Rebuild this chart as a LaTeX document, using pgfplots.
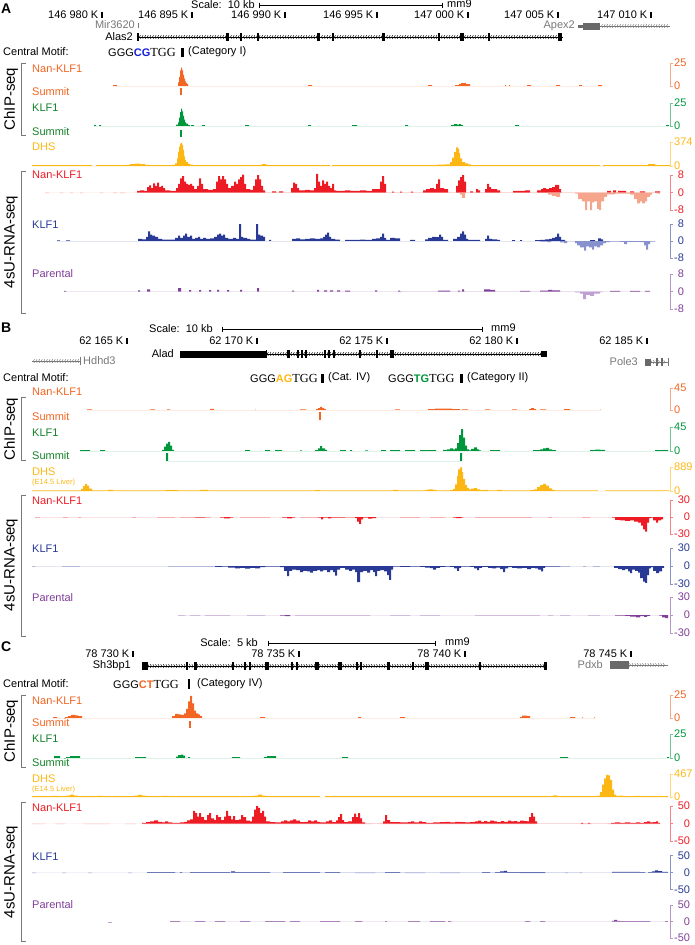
\documentclass[border=0pt]{standalone}
\usepackage{pgfplots}
\pgfplotsset{compat=1.18}
\usepackage{fontspec}
\setmainfont{Liberation Sans}
\newfontfamily\serifm[Scale=1.12]{Liberation Serif}
\usetikzlibrary{decorations.markings}
\definecolor{cor}{RGB}{242,101,34}
\definecolor{cgr}{RGB}{0,150,60}
\definecolor{cgl}{RGB}{20,130,40}
\definecolor{cgo}{RGB}{253,183,20}
\definecolor{cre}{RGB}{237,28,36}
\definecolor{csa}{RGB}{244,165,140}
\definecolor{cbl}{RGB}{40,58,150}
\definecolor{cbll}{RGB}{135,145,205}
\definecolor{cpu}{RGB}{128,63,152}
\definecolor{cpul}{RGB}{190,160,210}
\definecolor{cgy}{RGB}{120,120,120}
\definecolor{cgene}{RGB}{105,105,105}
\definecolor{mblue}{RGB}{20,30,220}
\newcommand\fsz{\fontsize{11}{13}\selectfont}
\pgfplotsset{
  trk/.style={scale only axis, width=695pt, xmin=0, xmax=695, hide axis, clip=false, anchor=origin},
  hb/.style={ybar interval, fill=#1, draw=none},
}
\newcommand\ctick[3]{\fill (#1-0.9,#2-3) rectangle (#1+0.9,#2+3); \node[anchor=east,inner sep=0pt,font=\fsz] at (#1-3.5,#2) {#3};}
\newcommand\ex[4]{\fill[#4] (#1-#2/2,#3-4) rectangle (#1+#2/2,#3+4);}
\newcommand\gline[5]{\draw[#4,line width=0.6pt,postaction={decorate,decoration={markings,mark=between positions 1.5pt and -1.5pt step 2.6pt with {\draw[#4,line width=0.45pt] (#5,1.8pt)--(0pt,0pt)--(#5,-1.8pt);}}}] (#1,#3)--(#2,#3);}
\newcommand\rbc[3]{%
  \draw[#1!55, line width=0.8pt] ([xshift=3pt]axis cs:670,#2) -- (axis cs:670,#2) -- (axis cs:670,0) -- ([xshift=3pt]axis cs:670,0);
  \node[#1, anchor=west, inner sep=0pt, font=\fsz] at ([xshift=4pt]axis cs:670,#2) {#3};
  \node[#1, anchor=west, inner sep=0pt, font=\fsz] at ([xshift=4pt]axis cs:670,0) {0};}
\newcommand\rbr[4]{%
  \draw[#1!55, line width=0.8pt] ([xshift=3pt]axis cs:670,#2) -- (axis cs:670,#2) -- (axis cs:670,-#2) -- ([xshift=3pt]axis cs:670,-#2);
  \draw[#1!55, line width=0.8pt] (axis cs:670,0) -- ([xshift=3pt]axis cs:670,0);
  \node[#1, anchor=west, inner sep=0pt, font=\fsz] at ([xshift=4pt]axis cs:670,#2) {#3};
  \node[#1, anchor=west, inner sep=0pt, font=\fsz] at ([xshift=4pt]axis cs:670,0) {#4};
  \node[#1, anchor=west, inner sep=0pt, font=\fsz] at ([xshift=4pt]axis cs:670,-#2) {-#2};}
\begin{document}
\begin{tikzpicture}
\useasboundingbox (0,0) rectangle (695pt,-945pt);
\begin{scope}[x=1pt,y=-1pt,lab/.style={anchor=west,inner sep=0pt,font=\fsz},grp/.style={rotate=90,inner sep=0pt,font=\fontsize{15}{17}\selectfont},pl/.style={anchor=west,inner sep=0pt,font=\fontsize{14}{16}\selectfont\bfseries}]
%%%%%%%%%%%% PANEL A
\node[pl] at (1,9) {A};
\node[anchor=east,inner sep=0pt,font=\fsz] at (255,5) {Scale:\ \ 10 kb};
\draw[line width=0.7pt] (259,5)--(442,5) (259,2.5)--(259,7.5) (442,2.5)--(442,7.5);
\node[lab] at (447,4) {mm9};
\ctick{102}{15}{146 980 K}\ctick{192}{15}{146 895 K}\ctick{285}{15}{146 990 K}\ctick{377}{15}{146 995 K}\ctick{468}{15}{147 000 K}\ctick{558}{15}{147 005 K}\ctick{651}{15}{147 010 K}
\node[anchor=east,inner sep=0pt,font=\fsz,cgy] at (135,25) {Mir3620};
\draw[cgy,line width=0.8pt] (138,23)--(138,27.5);
\node[anchor=east,inner sep=0pt,font=\fsz] at (133,37) {Alas2};
\gline{138}{563}{37}{black}{1pt}
\foreach \x/\w in {138/1.5,227/3,241/2,258/1.5,318/3,333/2.5,383/3,439/2.5,462/4,489/2.5,560/4}{\ex{\x}{\w}{37}{black}}
\node[anchor=east,inner sep=0pt,font=\fsz,cgy] at (575,26) {Apex2};
\fill[cgene] (578,24.5) rectangle (583,27.5);
\fill[cgene] (583,22.5) rectangle (600,29.5);
\gline{600}{670}{26}{cgy}{1pt}
\node[lab] at (3,52) {Central Motif:};
\node[lab] at (108,52) {GGG\textbf{\color{mblue}CG}{\serifm TGG}};
\fill (181,47.5) rectangle (183.5,56.5);
\node[lab] at (188,52) {(Category I)};
\draw[cgy,line width=0.8pt] (26,63)--(21,63)--(21,135)--(26,135);
\node[grp] at (11,99) {ChIP-seq};
\draw[cgy,line width=0.8pt] (26,171)--(21,171)--(21,313)--(26,313);
\node[grp] at (11,242) {4sU-RNA-seq};
\node[lab,cor] at (32,69) {Nan-KLF1};
\node[lab,cor] at (32,92) {Summit};
\node[lab,cgl] at (32,108) {KLF1};
\node[lab,cgl] at (32,132) {Summit};
\node[lab,cgo] at (32,147) {DHS};
\node[lab,cre] at (32,175) {Nan-KLF1};
\node[lab,cbl] at (32,225) {KLF1};
\node[lab,cpu] at (32,274) {Parental};
%%%%%%%%%%%% PANEL B
\node[pl] at (1,328) {B};
\node[anchor=east,inner sep=0pt,font=\fsz] at (213,329) {Scale:\ \ 10 kb};
\draw[line width=0.7pt] (222,329)--(482,329) (222,326.5)--(222,331.5) (482,326.5)--(482,331.5);
\node[lab] at (491,328) {mm9};
\ctick{127}{341}{62 165 K}\ctick{257}{341}{62 170 K}\ctick{387}{341}{62 175 K}\ctick{517}{341}{62 180 K}\ctick{647}{341}{62 185 K}
\gline{32}{80}{361}{cgy}{1pt}
\draw[cgy,line width=0.8pt] (80,357)--(80,365);
\node[lab,cgy] at (83,361) {Hdhd3};
\node[anchor=east,inner sep=0pt,font=\fsz] at (174,354) {Alad};
\gline{180}{545}{354}{black}{1pt}
\fill (180,350.5) rectangle (266,357.5);
\foreach \x/\w in {266/1,288/3,298/2,302/2,306/2,325/2,329/2,334/2.5,360/1.5,377/1.5,392/3.5}{\ex{\x}{\w}{354}{black}}
\fill (541,351) rectangle (547,357);
\node[anchor=east,inner sep=0pt,font=\fsz,cgy] at (638,362) {Pole3};
\gline{645}{668}{362}{cgy}{-1pt}
\fill[cgene] (645,358.5) rectangle (651,365.5);
\foreach \x/\w in {657/2,662/1.5}{\ex{\x}{\w}{362}{cgene}}
\draw[cgy,line width=0.8pt] (668,358)--(668,366);
\node[lab] at (3,378) {Central Motif:};
\node[lab] at (250,378) {GGG\textbf{\color{cgo}AG}{\serifm TGG}};
\fill (321,373.5) rectangle (323.5,382.5);
\node[lab] at (328,378) {(Cat. IV)};
\node[lab] at (388,378) {GGG\textbf{\color{cgr}TG}{\serifm TGG}};
\fill (460,373.5) rectangle (462.5,382.5);
\node[lab] at (467,378) {(Category II)};
\draw[cgy,line width=0.8pt] (26,397)--(21,397)--(21,460)--(26,460);
\node[grp] at (11,429) {ChIP-seq};
\draw[cgy,line width=0.8pt] (26,495)--(21,495)--(21,636)--(26,636);
\node[grp] at (11,565) {4sU-RNA-seq};
\node[lab,cor] at (32,392) {Nan-KLF1};
\node[lab,cor] at (32,417) {Summit};
\node[lab,cgl] at (32,433) {KLF1};
\node[lab,cgl] at (32,456) {Summit};
\node[lab,cgo] at (32,472) {DHS};
\node[anchor=west,inner sep=0pt,font=\fontsize{7.5}{9}\selectfont,cgo] at (32,482.5) {(E14.5 Liver)};
\node[lab,cre] at (32,501) {Nan-KLF1};
\node[lab,cbl] at (32,549) {KLF1};
\node[lab,cpu] at (32,598) {Parental};
%%%%%%%%%%%% PANEL C
\node[pl] at (1,647) {C};
\node[anchor=east,inner sep=0pt,font=\fsz] at (258,643) {Scale:\ \ 5 kb};
\draw[line width=0.7pt] (268,643)--(435,643) (268,640.5)--(268,645.5) (435,640.5)--(435,645.5);
\node[lab] at (445,642) {mm9};
\ctick{133}{654}{78 730 K}\ctick{299}{654}{78 735 K}\ctick{465}{654}{78 740 K}\ctick{631}{654}{78 745 K}
\node[anchor=east,inner sep=0pt,font=\fsz] at (131,666) {Sh3bp1};
\gline{142}{546}{666}{black}{-1pt}
\fill (142,662) rectangle (148,670);
\foreach \x/\w in {187/1.5,195/3,233/2,245/2.5,250/2,267/4,292/2,297/2.5,317/4,340/4,357/2,361/2,388/3,413/2.5,427/4,480/2.5,545/3}{\ex{\x}{\w}{666}{black}}
\node[anchor=east,inner sep=0pt,font=\fsz,cgy] at (603,665) {Pdxb};
\fill[cgene] (610,661) rectangle (629,669);
\gline{629}{668}{665}{cgy}{-1pt}
\node[lab] at (3,684) {Central Motif:};
\node[lab] at (113,684) {GGG\textbf{\color{cor}CT}{\serifm TGG}};
\fill (187.5,679) rectangle (190,689);
\node[lab] at (197,684) {(Category IV)};
\draw[cgy,line width=0.8pt] (26,695)--(21,695)--(21,767)--(26,767);
\node[grp] at (11,731) {ChIP-seq};
\draw[cgy,line width=0.8pt] (26,802)--(21,802)--(21,941)--(26,941);
\node[grp] at (11,872) {4sU-RNA-seq};
\node[lab,cor] at (32,701) {Nan-KLF1};
\node[lab,cor] at (32,723) {Summit};
\node[lab,cgl] at (32,739) {KLF1};
\node[lab,cgl] at (32,763) {Summit};
\node[lab,cgo] at (32,779) {DHS};
\node[anchor=west,inner sep=0pt,font=\fontsize{7.5}{9}\selectfont,cgo] at (32,789.5) {(E14.5 Liver)};
\node[lab,cre] at (32,808) {Nan-KLF1};
\node[lab,cbl] at (32,857) {KLF1};
\node[lab,cpu] at (32,905) {Parental};
\end{scope}
%%%%%%%%%%%%%%%%%%%%%%%%%%%%%%%% TRACKS A
\begin{axis}[trk, at={(0pt,-86pt)}, height=23pt, ymin=0, ymax=25]
\addplot[hb=cor] coordinates {(113,1)(117,0)(178,4)(179,10)(180,17)(181,20)(182,17)(183,12)(184,8)(185,5)(186,3)(187,2)(188,0)(308,1)(312,0)(428,1)(432,0)(455,1)(459,2)(461,3)(464,3)(466,2)(470,0)(505,1)(506,0)(509,1)(510,0)(527,1)(531,0)(556,1)(560,0)(579,1)(582,0)(598,1)(602,0)};
\rbc{cor}{25}{25}
\end{axis}
\begin{axis}[trk, at={(0pt,-95pt)}, height=7pt, ymin=0, ymax=1]
\addplot[hb=cor] coordinates {(180,1)(182,0)};
\end{axis}
\begin{axis}[trk, at={(0pt,-126pt)}, height=23pt, ymin=0, ymax=25]
\addplot[hb=cgr] coordinates {(94,1)(96,0)(99,1)(101,0)(176,1.5)(178,4)(179,9)(180,15)(181,19)(182,16)(183,11)(184,7)(185,4)(186,2.5)(188,1)(190,0)(191,1)(194,0)(202,1)(205,0)(245,1)(249,0)(308,1)(311,0)(352,1)(357,0)(405,1)(408,0)(451,1)(454,2)(457,1.5)(459,2)(461,1)(463,0)(515,1)(519,0)(666,1)(669,0)};
\rbc{cgr}{25}{25}
\end{axis}
\begin{axis}[trk, at={(0pt,-137pt)}, height=7pt, ymin=0, ymax=1]
\addplot[hb=cgr] coordinates {(180,1)(182,0)};
\end{axis}
\begin{axis}[trk, at={(0pt,-166pt)}, height=24pt, ymin=0, ymax=374]
\addplot[hb=cgo] coordinates {(32,14)(92,0)(96,14)(125,16)(130,28)(135,38)(140,28)(145,16)(150,14)(172,18)(175,40)(177,120)(178,220)(179,300)(180,350)(181,360)(182,330)(183,250)(184,150)(185,90)(186,60)(188,35)(190,20)(193,14)(250,14)(258,18)(262,28)(266,18)(270,14)(330,0)(332,14)(430,14)(437,20)(445,25)(450,60)(452,130)(454,220)(456,290)(458,270)(459,200)(460,120)(462,60)(465,40)(468,25)(471,14)(600,0)(603,14)(645,14)(648,28)(652,28)(655,14)(670,0)};
\rbc{cgo}{374}{374}
\end{axis}
\begin{axis}[trk, at={(0pt,-192.5pt)}, height=35pt, ymin=-8, ymax=8]
\addplot[hb=cre] coordinates {(137,0.8)(140,1)(144,0.8)(147,2.5)(149,3.3)(151,2)(153,4.2)(155,3)(157,4.5)(159,2.5)(161,3)(163,2)(165,1)(170,0.8)(176,2)(178,4)(180,6.5)(182,7.5)(184,5)(186,4)(188,3.5)(190,4)(192,3)(194,1.5)(197,3)(199,6.5)(201,4)(203,1.5)(208,1.2)(213,1.5)(216,5)(218,7.5)(220,6)(222,7.5)(224,6)(226,4)(228,2)(231,3)(234,5)(236,4)(238,6)(240,7)(242,8.2)(244,4)(246,1.5)(250,1.2)(253,3)(255,6)(257,8)(259,6)(261,3)(263,1)(265,0)(272,0.5)(276,0)(279,0.5)(283,0)(291,2)(293,4.5)(295,4)(297,2)(299,1)(305,1.2)(310,1)(314,2)(316,8.5)(318,5)(320,3)(322,5.5)(324,4)(326,5)(328,3)(330,2)(332,4)(334,1)(336,0.8)(345,1)(350,0.8)(360,1)(366,0.8)(372,1.5)(376,1.5)(380,5)(382,7.5)(384,4)(386,0)(392,0.4)(394,0)(400,0.4)(402,0)(411,0.4)(413,0)(423,1)(426,1.5)(430,2)(434,1.5)(436,4)(438,6)(440,2)(444,1.5)(448,0)(456,3)(458,5.5)(460,7)(462,8)(464,5)(466,0)(470,0.5)(473,0)(476,1.5)(478,1)(480,0)(485,1.5)(487,4)(489,2.5)(491,1.5)(494,1.5)(497,1)(500,0)(513,0.8)(517,0.8)(521,0.8)(525,1)(530,0)(537,1)(541,1.5)(543,2)(546,1.5)(549,2)(552,2.5)(555,3.5)(557,3.5)(559,1.5)(561,0)(607,0.8)(611,0)(613,1)(616,0)(618,0.8)(622,0.8)(626,0)(630,0.5)(634,0)(640,0.5)(645,0)(655,0.5)(660,0)};
\addplot[hb=csa] coordinates {(45,-0.3)(49,0)(60,-0.3)(63,0)(70,-0.3)(73,0)(80,-0.3)(83,0)(100,-0.3)(103,0)(113,-0.3)(117,0)(120,-0.3)(125,0)(460,-1)(462,-2.5)(465,0)(548,-1)(552,-1.5)(556,-2)(560,0)(575,-0.5)(578,-3)(582,-4)(585,-8)(587,-4)(590,-8)(592,-4.5)(594,-4)(597,-7.5)(599,-8)(601,-4)(604,-2)(607,-0.8)(612,-0.8)(615,-0.5)(625,-0.5)(630,-1)(634,-3)(637,-5)(640,-4)(642,-5)(645,-4)(647,-2)(650,-1)(652,0)(657,-0.5)(660,0)};
\rbr{cre}{8}{\hphantom{-}8}{\hphantom{-}0}
\end{axis}
\begin{axis}[trk, at={(0pt,-241pt)}, height=34pt, ymin=-8, ymax=8]
\addplot[hb=cbl] coordinates {(57,0.3)(60,0)(66,0.3)(70,0)(138,1)(142,0.8)(146,2)(148,4.5)(150,3)(152,2.5)(155,2)(158,1)(162,0.7)(170,0.7)(175,1.5)(178,2.5)(180,1.5)(183,2.5)(185,3.5)(187,2)(190,2.5)(192,1)(195,1.5)(198,2)(200,1)(203,1.5)(206,1)(210,1.2)(214,2)(217,3)(219,3.5)(221,2.5)(223,3)(225,1.5)(228,1)(233,1.5)(236,1)(239,8)(241,2)(243,1.5)(247,1)(250,0.7)(256,8)(258,3)(260,2.5)(263,2)(265,0)(269,0.5)(271,0)(292,1)(296,1.2)(300,0.8)(305,1)(310,1.2)(315,1)(320,1.2)(323,2)(325,3)(327,4)(329,2)(331,1)(335,0.7)(340,0)(345,0.5)(352,0.5)(360,0.7)(365,0.5)(372,1)(376,1.2)(380,2)(382,3.5)(384,1.5)(386,0.5)(390,1.5)(395,1.2)(400,0)(410,0.5)(415,0)(425,0.8)(428,1.5)(432,2)(436,1.8)(439,3)(441,2)(443,0.5)(448,0)(453,1)(457,2)(460,3.5)(462,4.5)(464,3)(466,1)(468,0.5)(480,0)(485,1)(487,2.5)(489,1)(492,0.8)(497,0.5)(500,0)(512,0.4)(515,0)(520,0.4)(522,0)(535,0.4)(540,0.5)(545,0.8)(549,1)(552,1.5)(555,2)(557,3.5)(559,2)(561,0.5)(565,0)(590,0.4)(595,0)(598,1.2)(601,0.8)(603,0)};
\addplot[hb=cbll] coordinates {(540,-0.3)(547,-0.5)(551,0)(560,-0.6)(564,-1)(567,0)(575,-1)(577,-2)(580,-3)(584,-4.5)(586,-2.5)(589,-3)(592,-4)(594,-2.5)(597,-3)(600,-2)(603,-1)(606,-0.5)(610,-0.3)(620,-0.4)(624,-1.5)(627,-0.4)(640,-0.5)(644,-2)(646,-4)(648,-1.5)(650,-0.3)(655,0)};
\rbr{cbl}{8}{\hphantom{-}8}{\hphantom{-}0}
\end{axis}
\begin{axis}[trk, at={(0pt,-291.5pt)}, height=35pt, ymin=-8, ymax=8]
\addplot[hb=cpu] coordinates {(64,0.3)(66,0)(138,0.5)(140,0)(147,1)(150,0)(178,1.5)(181,0)(189,0.6)(191,0)(199,0.6)(201,0)(209,0.6)(211,0)(217,0.7)(219,0)(227,0.6)(229,0)(240,0.8)(242,0)(257,1.5)(259,0)(292,0.4)(294,0)(317,0.7)(319,0)(324,0.5)(327,0)(330,0.5)(333,0)(337,0.5)(340,0)(345,0.4)(350,0)(375,0.5)(377,0)(398,0.4)(400,0)(438,0.4)(450,0)(458,0.4)(460,0)(462,1)(464,0)(484,1)(490,0.8)(495,0)(520,0.3)(530,0)(540,0.4)(548,0.8)(552,0.5)(560,0)(610,0.3)(620,0)(630,0.3)(640,0)(645,0.3)(650,0)};
\addplot[hb=cpul] coordinates {(400,-0.3)(402,0)(575,-0.4)(580,-1)(583,-3.5)(586,-1.5)(590,-2)(594,-1)(600,-0.3)(603,0)};
\rbr{cpu}{8}{\hphantom{-}8}{\hphantom{-}0}
\end{axis}
%%%%%%%%%%%%%%%%%%%%%%%%%%%%%%%% TRACKS B
\begin{axis}[trk, at={(0pt,-410pt)}, height=22pt, ymin=0, ymax=45]
\addplot[hb=cor] coordinates {(87,1.5)(92,0)(150,1.5)(155,0)(167,1.5)(170,0)(210,2.5)(214,0)(255,1)(256,0)(300,1.5)(306,0)(316,2)(318,4)(320,6.5)(322,4)(324,2)(326,0)(395,1.5)(400,0)(428,2)(435,3)(445,3)(452,2)(460,0)(462,1.5)(468,0)(485,1.5)(490,0)(512,1.5)(517,0)(529,2)(531,4)(534,2)(536,0)(540,1.5)(546,0)(564,2)(570,0)(600,1)(601,0)};
\rbc{cor}{45}{45}
\end{axis}
\begin{axis}[trk, at={(0pt,-420pt)}, height=8pt, ymin=0, ymax=1]
\addplot[hb=cor] coordinates {(319,1)(321,0)};
\end{axis}
\begin{axis}[trk, at={(0pt,-451pt)}, height=24pt, ymin=0, ymax=45]
\addplot[hb=cgr] coordinates {(80,1.5)(90,0)(100,1.5)(105,0)(162,2)(164,8)(166,14)(168,17)(170,10)(172,2)(174,0)(245,1.5)(250,0)(265,1.5)(270,0)(275,1.5)(282,0)(300,1)(302,0)(315,1.5)(318,5)(320,9)(322,5)(325,2)(327,0)(340,1.5)(346,0)(350,1.5)(352,0)(365,1)(368,0)(381,1.5)(386,0)(390,1.5)(400,0)(405,1.5)(415,0)(420,1.5)(436,0)(443,2)(447,3)(450,5)(453,3)(455,5)(457,15)(459,30)(461,41)(463,25)(465,10)(467,3)(469,1)(471,4)(474,7)(477,3)(479,1)(481,0)(490,1.5)(500,0)(533,1.5)(540,3)(543,5)(546,6)(549,3)(552,1.5)(556,0)(590,1.5)(595,2.5)(600,2)(605,0)(655,1.5)(668,0)};
\rbc{cgr}{45}{45}
\end{axis}
\begin{axis}[trk, at={(0pt,-461pt)}, height=8pt, ymin=0, ymax=1]
\addplot[hb=cgr] coordinates {(166,1)(168,0)(460,1)(462,0)};
\end{axis}
\begin{axis}[trk, at={(0pt,-491pt)}, height=24pt, ymin=0, ymax=889]
\addplot[hb=cgo] coordinates {(32,25)(78,28)(81,80)(83,180)(85,260)(87,200)(89,90)(92,28)(95,25)(108,40)(113,25)(165,35)(178,25)(200,45)(208,25)(315,35)(320,25)(393,40)(398,25)(425,45)(428,60)(433,45)(436,25)(450,35)(453,80)(455,250)(457,550)(458,800)(460,880)(462,700)(463,450)(465,220)(467,120)(469,60)(471,90)(474,110)(477,60)(480,35)(484,45)(488,25)(497,40)(502,25)(530,30)(534,60)(537,140)(540,220)(543,260)(546,200)(549,100)(552,40)(555,25)(598,0)(605,25)(668,25)(669,0)};
\rbc{cgo}{889}{889}
\end{axis}
\begin{axis}[trk, at={(0pt,-517pt)}, height=34pt, ymin=-30, ymax=30]
\addplot[hb=cre] coordinates {(35,-0.8)(40,0)(63,-0.8)(68,0)(78,-0.8)(81,0)(132,-0.8)(136,0)(157,-0.8)(175,0)(180,-0.8)(195,-1)(205,-0.8)(210,0)(220,-1)(224,-2.5)(230,-1)(233,0)(240,-0.8)(270,0)(282,-1)(287,-2.5)(292,-1)(295,0)(300,-0.8)(318,-1)(321,-4)(323,-1)(328,-2.5)(331,-1)(345,-0.8)(355,-2)(357,-8)(359,-12)(361,-4)(363,-1)(365,-1)(368,-3)(372,-2)(376,0)(400,-0.8)(420,0)(430,-0.8)(445,0)(453,-1)(456,-2)(461,-1)(463,0)(475,-0.8)(532,0)(548,-0.8)(552,0)(582,-0.8)(590,0)(612,-1)(615,-5)(620,-6)(625,-7)(630,-6)(634,-8)(638,-10)(641,-15)(643,-22)(645,-26)(647,-10)(649,-2)(651,-1)(653,-6)(656,-10)(658,-6)(661,-4)(663,0)};
\rbr{cre}{30}{\hphantom{-}30}{\hphantom{-3}0}
\end{axis}
\begin{axis}[trk, at={(0pt,-566pt)}, height=36pt, ymin=-30, ymax=30]
\addplot[hb=cbl] coordinates {(32,-0.8)(35,0)(62,-0.8)(80,0)(168,-0.8)(215,-1.5)(222,-1)(228,-2.5)(235,-4)(240,-3)(245,-4.5)(250,-3)(255,-4)(260,-2)(265,-1)(280,-2)(284,-8)(287,-17)(289,-8)(292,-6)(296,-7)(300,-10)(303,-8)(307,-9)(310,-11)(313,-8)(317,-7)(320,-9)(323,-7)(327,-10)(330,-7)(333,-10)(335,-16)(337,-6)(340,-3)(345,-6)(349,-8)(352,-6)(355,-10)(357,-27)(360,-10)(363,-8)(367,-11)(370,-7)(373,-10)(375,-17)(377,-8)(380,-7)(384,-9)(387,-15)(389,-23)(391,-6)(393,-1)(400,-1.5)(410,-1)(420,-1.5)(425,-2.5)(430,-3.5)(433,-6)(436,-3)(440,-1.5)(445,-1)(450,-1.5)(454,-4)(457,-8)(459,-3)(461,-1)(470,-1.5)(474,-4)(477,-7)(479,-3)(482,-1.5)(488,-3)(492,-4)(496,-2.5)(500,-5)(503,-10)(505,-4)(508,-2)(512,-3)(517,-4)(522,-3)(527,-5)(531,-3)(535,-4)(538,-6)(541,-9)(543,-3)(545,-1)(560,-0.8)(570,0)(583,-0.8)(586,0)(593,-0.8)(600,0)(614,-3)(618,-5)(622,-7)(625,-5)(628,-9)(630,-12)(632,-6)(635,-8)(638,-11)(640,-20)(643,-26)(645,-28)(647,-15)(649,-4)(651,-2)(653,-8)(656,-12)(659,-9)(662,-3)(664,0)};
\rbr{cbl}{30}{\hphantom{-}30}{\hphantom{-3}0}
\end{axis}
\begin{axis}[trk, at={(0pt,-615pt)}, height=36pt, ymin=-30, ymax=30]
\addplot[hb=cpu] coordinates {(178,-0.8)(185,0)(190,-0.8)(200,0)(205,-0.8)(230,0)(247,-0.8)(265,0)(280,-1)(285,-2)(290,0)(295,-0.8)(370,0)(390,-0.8)(410,0)(420,-0.8)(440,0)(475,-0.8)(540,0)(548,-0.8)(553,0)(560,-0.8)(570,0)(588,-0.8)(600,0)(615,-1)(625,-1.5)(630,-2.5)(636,-4)(640,-2)(644,-3)(647,-1.5)(650,0)(659,-1)(662,-4)(665,-5)(668,0)};
\rbr{cpu}{30}{\hphantom{-}30}{\hphantom{-3}0}
\end{axis}
%%%%%%%%%%%%%%%%%%%%%%%%%%%%%%%% TRACKS C
\begin{axis}[trk, at={(0pt,-718pt)}, height=23pt, ymin=0, ymax=25]
\addplot[hb=cor] coordinates {(53,1)(57,0)(65,1)(68,2)(71,3.5)(75,3)(78,2)(82,0)(172,2)(175,4.5)(178,4)(181,3.5)(184,5)(186,10)(188,18)(190,24)(192,16)(194,8)(196,5)(198,4)(200,2)(202,0)(260,1)(265,0)(358,1)(361,0)(400,1)(405,0)(520,1)(522,2.5)(527,2)(530,0)(570,1)(575,0)(582,0.8)(583,0)(594,0.8)(595,0)};
\rbc{cor}{25}{25}
\end{axis}
\begin{axis}[trk, at={(0pt,-728pt)}, height=7pt, ymin=0, ymax=1]
\addplot[hb=cor] coordinates {(189,1)(191,0)};
\end{axis}
\begin{axis}[trk, at={(0pt,-758pt)}, height=24pt, ymin=0, ymax=25]
\addplot[hb=cgr] coordinates {(54,2)(60,0)(66,1)(70,2)(75,2)(80,0)(135,1)(146,0)(176,1.5)(178,3)(181,3.5)(183,2.5)(185,0)(188,0.8)(190,0)(232,1)(240,0)(264,1)(267,2)(274,2)(276,0)(342,1)(348,0)(560,1)(568,0)(667,0.8)(669,0)};
\rbc{cgr}{25}{25}
\end{axis}
\begin{axis}[trk, at={(0pt,-797pt)}, height=23pt, ymin=0, ymax=467]
\addplot[hb=cgo] coordinates {(32,16)(52,25)(58,16)(66,30)(70,50)(74,30)(78,16)(97,25)(103,16)(134,30)(138,45)(142,30)(146,16)(162,25)(168,16)(254,30)(258,50)(262,30)(266,16)(320,0)(325,16)(550,20)(553,35)(557,16)(597,30)(600,100)(602,250)(604,380)(606,450)(608,440)(610,350)(612,150)(614,50)(616,25)(620,30)(623,16)(635,25)(640,16)(665,20)(668,0)};
\rbc{cgo}{467}{467}
\end{axis}
\begin{axis}[trk, at={(0pt,-823.5pt)}, height=35pt, ymin=-50, ymax=50]
\addplot[hb=cre!35] coordinates {(32,-1.5)(45,0)(55,-1.5)(65,0)(83,-1.5)(110,0)(125,-1.5)(135,0)(142,-2)(372,0)(378,-2)(535,0)(580,-1.5)(592,0)(607,-1.5)(660,0)};
\addplot[hb=cre] coordinates {(142,2)(146,4)(150,6)(154,9)(158,5)(162,3)(165,6)(168,3)(172,2)(180,3)(184,5)(187,9)(190,12)(193,36)(195,30)(197,20)(199,30)(201,18)(204,10)(207,24)(209,30)(211,15)(214,10)(216,24)(218,18)(221,10)(224,20)(226,36)(228,22)(231,12)(233,21)(235,10)(239,12)(241,24)(243,18)(246,8)(250,6)(252,20)(254,40)(256,50)(258,45)(260,30)(262,36)(264,20)(266,6)(270,4)(275,3)(281,6)(284,9)(287,6)(290,9)(293,12)(296,8)(300,4)(305,5)(308,9)(311,6)(314,9)(317,5)(320,3)(326,6)(329,9)(332,4)(336,9)(338,18)(340,27)(342,10)(344,4)(348,6)(352,18)(354,28)(356,18)(358,30)(360,15)(362,3)(365,0)(383,6)(385,24)(387,10)(390,4)(400,3)(408,4)(411,6)(414,3)(419,6)(422,4)(426,2)(433,3)(440,4)(445,5)(450,3)(455,5)(460,4)(465,3)(470,4)(475,6)(478,8)(481,5)(484,7)(487,5)(490,8)(494,6)(497,4)(501,7)(504,5)(508,8)(511,6)(514,7)(517,5)(520,8)(524,7)(527,6)(529,18)(531,30)(533,20)(535,6)(537,0)(581,1.5)(583,0)(588,1.5)(590,0)(611,2)(615,3)(620,2)(625,3)(630,2)(636,3)(640,2)(644,4)(647,6)(650,3)(653,4)(656,6)(658,2)(660,0)};
\rbr{cre}{50}{\hphantom{-}50}{\hphantom{-5}0}
\end{axis}
\begin{axis}[trk, at={(0pt,-872.5pt)}, height=34pt, ymin=-50, ymax=50]
\addplot[hb=cbll] coordinates {(32,-1.5)(36,0)(62,-1.5)(66,0)(88,-1.5)(92,0)(128,-1.5)(132,0)(355,-1.5)(375,0)(405,-1.5)(425,0)(440,-1.5)(460,0)(520,-1.5)(545,0)(565,-1.5)(568,0)(580,-1.5)(582,0)};
\addplot[hb=cbl] coordinates {(147,1.5)(175,0)(180,1.5)(182,0)(190,1.5)(230,0)(231,3)(235,1.5)(240,1.5)(270,0)(283,1.5)(320,0)(325,1.5)(340,0)(385,1.5)(400,0)(482,1.5)(490,0)(495,1.5)(500,3)(504,5)(507,1.5)(545,0)(612,2)(640,1.5)(645,0)(648,1.5)(652,3)(655,6)(658,4)(662,2)(668,0)};
\rbr{cbl}{50}{\hphantom{-}50}{\hphantom{-5}0}
\end{axis}
\begin{axis}[trk, at={(0pt,-921.5pt)}, height=33pt, ymin=-50, ymax=50]
\addplot[hb=cpul] coordinates {(108,-2)(112,0)};
\addplot[hb=cpu] coordinates {(170,1.5)(180,0)(195,1.5)(205,0)(215,1.5)(225,0)(240,1.5)(250,0)(265,1.5)(285,0)(290,1.5)(300,0)(320,1.5)(340,0)(355,1.5)(362,0)(385,1.5)(387,0)(408,1.5)(420,0)(430,1.5)(445,0)(448,1.5)(451,0)(525,1.5)(530,0)(540,1.5)(545,0)(612,2)(614,5)(617,2)(620,1.5)(650,0)(665,1.5)(668,0)};
\rbr{cpu}{50}{\hphantom{-}50}{\hphantom{-5}0}
\end{axis}
\end{tikzpicture}
\end{document}
